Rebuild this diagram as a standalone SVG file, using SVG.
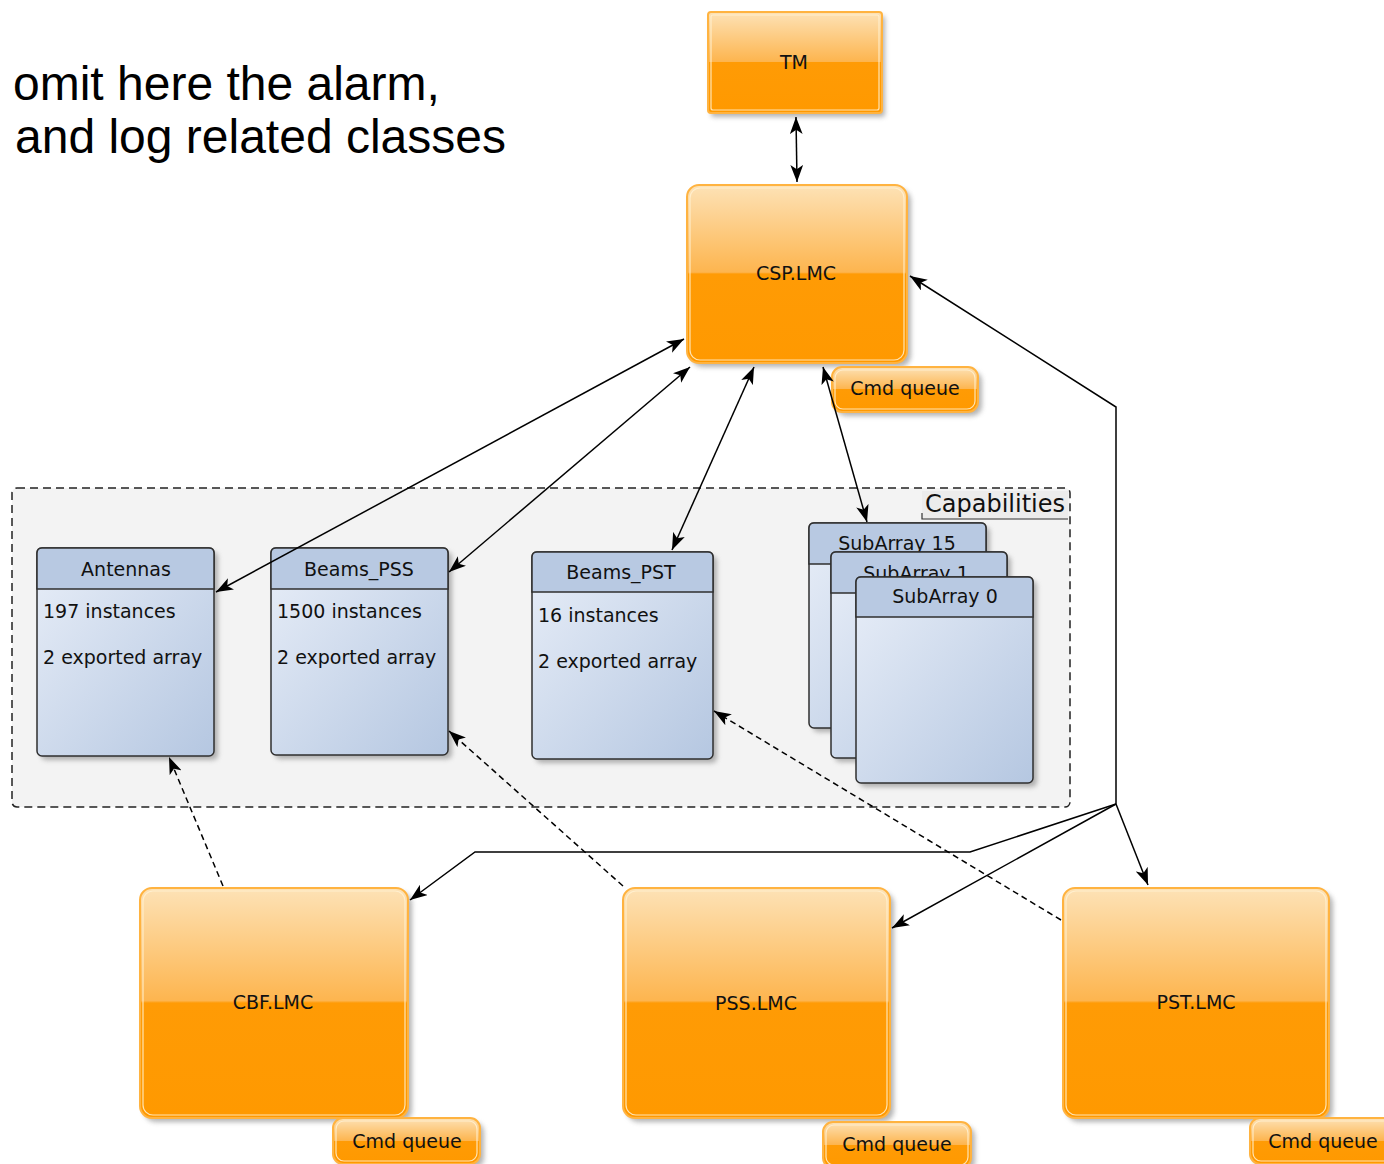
<svg xmlns="http://www.w3.org/2000/svg" width="1384" height="1164" viewBox="0 0 1384 1164">
  <defs>
    <linearGradient id="og" x1="0" y1="0" x2="0" y2="1">
      <stop offset="0" stop-color="#fde2b6"/>
      <stop offset="0.49" stop-color="#fdb54f"/>
      <stop offset="0.5" stop-color="#ff9b05"/>
      <stop offset="1" stop-color="#ff9900"/>
    </linearGradient>
    <linearGradient id="bg" x1="0" y1="0" x2="1" y2="1">
      <stop offset="0" stop-color="#e8eef8"/>
      <stop offset="1" stop-color="#b5c7e1"/>
    </linearGradient>
    <filter id="sh" x="-10%" y="-10%" width="130%" height="130%">
      <feGaussianBlur stdDeviation="2.5"/>
    </filter>
    <marker id="ah" viewBox="0 0 16 12" markerWidth="17" markerHeight="13" refX="16" refY="6" orient="auto-start-reverse" markerUnits="userSpaceOnUse">
      <path d="M0,0 L16,6 L0,12 L4,6 Z" fill="#000"/>
    </marker>
  </defs>
  <style>
    .sh { fill: #777; opacity: 0.55; filter: url(#sh); }
    .ob { fill: url(#og); stroke: #ffb340; stroke-width: 2; }
    .oi { fill: none; stroke: #fff1d2; stroke-width: 1.2; opacity: 0.85; }
    .bb { fill: url(#bg); stroke: #2f2f2f; stroke-width: 1.5; }
    .bh { fill: #b8c9e2; stroke: #2f2f2f; stroke-width: 1.5; }
    .t { font-family: "DejaVu Sans", "Liberation Sans", sans-serif; font-size: 19px; fill: #111; }
    .c { text-anchor: middle; }
    .ln { fill: none; stroke: #000; stroke-width: 1.5; }
    .ds { fill: none; stroke: #000; stroke-width: 1.5; stroke-dasharray: 6 4; }
  </style>
  <rect width="1384" height="1164" fill="#fff"/>

  <g id="note">
    <text x="13" y="100" font-family="Liberation Sans, Arial, sans-serif" font-size="48" fill="#000">omit here the alarm,</text>
    <text x="15" y="153" font-family="Liberation Sans, Arial, sans-serif" font-size="48" fill="#000">and log related classes</text>
  </g>

  <g id="capabilities">
    <rect x="12" y="488" width="1058" height="319" rx="5" fill="#f3f3f3" stroke="#222" stroke-width="1.5" stroke-dasharray="8 5"/>
    <rect x="922" y="491" width="146" height="28" fill="#ececec"/>
    <path d="M922,513 V519 H1068" fill="none" stroke="#333" stroke-width="1.2"/>
    <text x="995" y="512" class="t c" font-size="24" style="font-size:24px">Capabilities</text>
  </g>

  <g id="TM">
    <rect class="sh" x="711" y="16" width="174" height="101" rx="3"/>
    <rect class="ob" x="708" y="12" width="174" height="101" rx="3"/>
    <rect class="oi" x="711" y="15" width="168" height="95" rx="2"/>
    <text class="t c" x="794" y="69">TM</text>
  </g>

  <g id="CSP_LMC">
    <rect class="sh" x="691" y="189" width="220" height="178" rx="12"/>
    <rect class="ob" x="687" y="185" width="220" height="178" rx="12"/>
    <rect class="oi" x="690" y="188" width="214" height="172" rx="10"/>
    <text class="t c" x="796" y="280">CSP.LMC</text>
  </g>
  <g id="CSP_cmdq">
    <rect class="sh" x="836" y="371" width="146" height="45" rx="10"/>
    <rect class="ob" x="832" y="367" width="146" height="45" rx="10"/>
    <rect class="oi" x="835" y="370" width="140" height="39" rx="8"/>
    <text class="t c" x="905" y="395">Cmd queue</text>
  </g>

  <g id="Antennas">
    <rect class="sh" x="41" y="552" width="177" height="208" rx="5"/>
    <rect class="bb" x="37" y="548" width="177" height="208" rx="5"/>
    <path class="bh" d="M37,589 V553 Q37,548 42,548 H209 Q214,548 214,553 V589 Z"/>
    <text class="t c" x="126" y="576">Antennas</text>
    <text class="t" x="43" y="618">197 instances</text>
    <text class="t" x="43" y="664">2 exported array</text>
  </g>

  <g id="Beams_PSS">
    <rect class="sh" x="275" y="552" width="177" height="207" rx="5"/>
    <rect class="bb" x="271" y="548" width="177" height="207" rx="5"/>
    <path class="bh" d="M271,589 V553 Q271,548 276,548 H443 Q448,548 448,553 V589 Z"/>
    <text class="t c" x="359" y="576">Beams_PSS</text>
    <text class="t" x="277" y="618">1500 instances</text>
    <text class="t" x="277" y="664">2 exported array</text>
  </g>

  <g id="Beams_PST">
    <rect class="sh" x="536" y="556" width="181" height="207" rx="5"/>
    <rect class="bb" x="532" y="552" width="181" height="207" rx="5"/>
    <path class="bh" d="M532,592 V557 Q532,552 537,552 H708 Q713,552 713,557 V592 Z"/>
    <text class="t c" x="621" y="579">Beams_PST</text>
    <text class="t" x="538" y="622">16 instances</text>
    <text class="t" x="538" y="668">2 exported array</text>
  </g>

  <g id="SubArray15">
    <rect class="sh" x="813" y="527" width="177" height="205" rx="5"/>
    <rect class="bb" x="809" y="523" width="177" height="205" rx="5"/>
    <path class="bh" d="M809,564 V528 Q809,523 814,523 H981 Q986,523 986,528 V564 Z"/>
    <text class="t c" x="897" y="550">SubArray 15</text>
  </g>
  <g id="SubArray1">
    <rect class="sh" x="835" y="556" width="176" height="206" rx="5"/>
    <rect class="bb" x="831" y="552" width="176" height="206" rx="5"/>
    <path class="bh" d="M831,593 V557 Q831,552 836,552 H1002 Q1007,552 1007,557 V593 Z"/>
    <text class="t c" x="916" y="580">SubArray 1</text>
  </g>
  <g id="SubArray0">
    <rect class="sh" x="860" y="581" width="177" height="206" rx="5"/>
    <rect class="bb" x="856" y="577" width="177" height="206" rx="5"/>
    <path class="bh" d="M856,617 V582 Q856,577 861,577 H1028 Q1033,577 1033,582 V617 Z"/>
    <text class="t c" x="945" y="603">SubArray 0</text>
  </g>

  <g id="CBF_LMC">
    <rect class="sh" x="144" y="892" width="268" height="230" rx="12"/>
    <rect class="ob" x="140" y="888" width="268" height="230" rx="12"/>
    <rect class="oi" x="143" y="891" width="262" height="224" rx="10"/>
    <text class="t c" x="273" y="1009">CBF.LMC</text>
  </g>
  <g id="CBF_cmdq">
    <rect class="sh" x="337" y="1122" width="147" height="46" rx="10"/>
    <rect class="ob" x="333" y="1118" width="147" height="46" rx="10"/>
    <rect class="oi" x="336" y="1121" width="141" height="40" rx="8"/>
    <text class="t c" x="407" y="1148">Cmd queue</text>
  </g>

  <g id="PSS_LMC">
    <rect class="sh" x="627" y="892" width="267" height="230" rx="12"/>
    <rect class="ob" x="623" y="888" width="267" height="230" rx="12"/>
    <rect class="oi" x="626" y="891" width="261" height="224" rx="10"/>
    <text class="t c" x="756" y="1010">PSS.LMC</text>
  </g>
  <g id="PSS_cmdq">
    <rect class="sh" x="827" y="1126" width="148" height="46" rx="10"/>
    <rect class="ob" x="823" y="1122" width="148" height="46" rx="10"/>
    <rect class="oi" x="826" y="1125" width="142" height="40" rx="8"/>
    <text class="t c" x="897" y="1151">Cmd queue</text>
  </g>

  <g id="PST_LMC">
    <rect class="sh" x="1067" y="892" width="266" height="230" rx="12"/>
    <rect class="ob" x="1063" y="888" width="266" height="230" rx="12"/>
    <rect class="oi" x="1066" y="891" width="260" height="224" rx="10"/>
    <text class="t c" x="1196" y="1009">PST.LMC</text>
  </g>
  <g id="PST_cmdq">
    <rect class="sh" x="1254" y="1122" width="150" height="46" rx="10"/>
    <rect class="ob" x="1250" y="1118" width="150" height="46" rx="10"/>
    <rect class="oi" x="1253" y="1121" width="144" height="40" rx="8"/>
    <text class="t c" x="1323" y="1148">Cmd queue</text>
  </g>

  <g id="connectors">
    <path class="ln" d="M796,117 L797,182" marker-start="url(#ah)" marker-end="url(#ah)"/>
    <path class="ln" d="M684,339 L216,592" marker-start="url(#ah)" marker-end="url(#ah)"/>
    <path class="ln" d="M690,367 L449,572" marker-start="url(#ah)" marker-end="url(#ah)"/>
    <path class="ln" d="M754,367 L672,550" marker-start="url(#ah)" marker-end="url(#ah)"/>
    <path class="ln" d="M823,367 L867,522" marker-start="url(#ah)" marker-end="url(#ah)"/>
    <path class="ln" d="M1116,804 V407 L910,276" marker-end="url(#ah)"/>
    <path class="ln" d="M1116,804 L970,852 H475 L410,900" marker-end="url(#ah)"/>
    <path class="ln" d="M1116,804 L892,928" marker-end="url(#ah)"/>
    <path class="ln" d="M1116,804 L1148,885" marker-end="url(#ah)"/>
    <path class="ds" d="M223,886 L169,757" marker-end="url(#ah)"/>
    <path class="ds" d="M623,886 L449,731" marker-end="url(#ah)"/>
    <path class="ds" d="M1061,920 L714,711" marker-end="url(#ah)"/>
  </g>
</svg>
